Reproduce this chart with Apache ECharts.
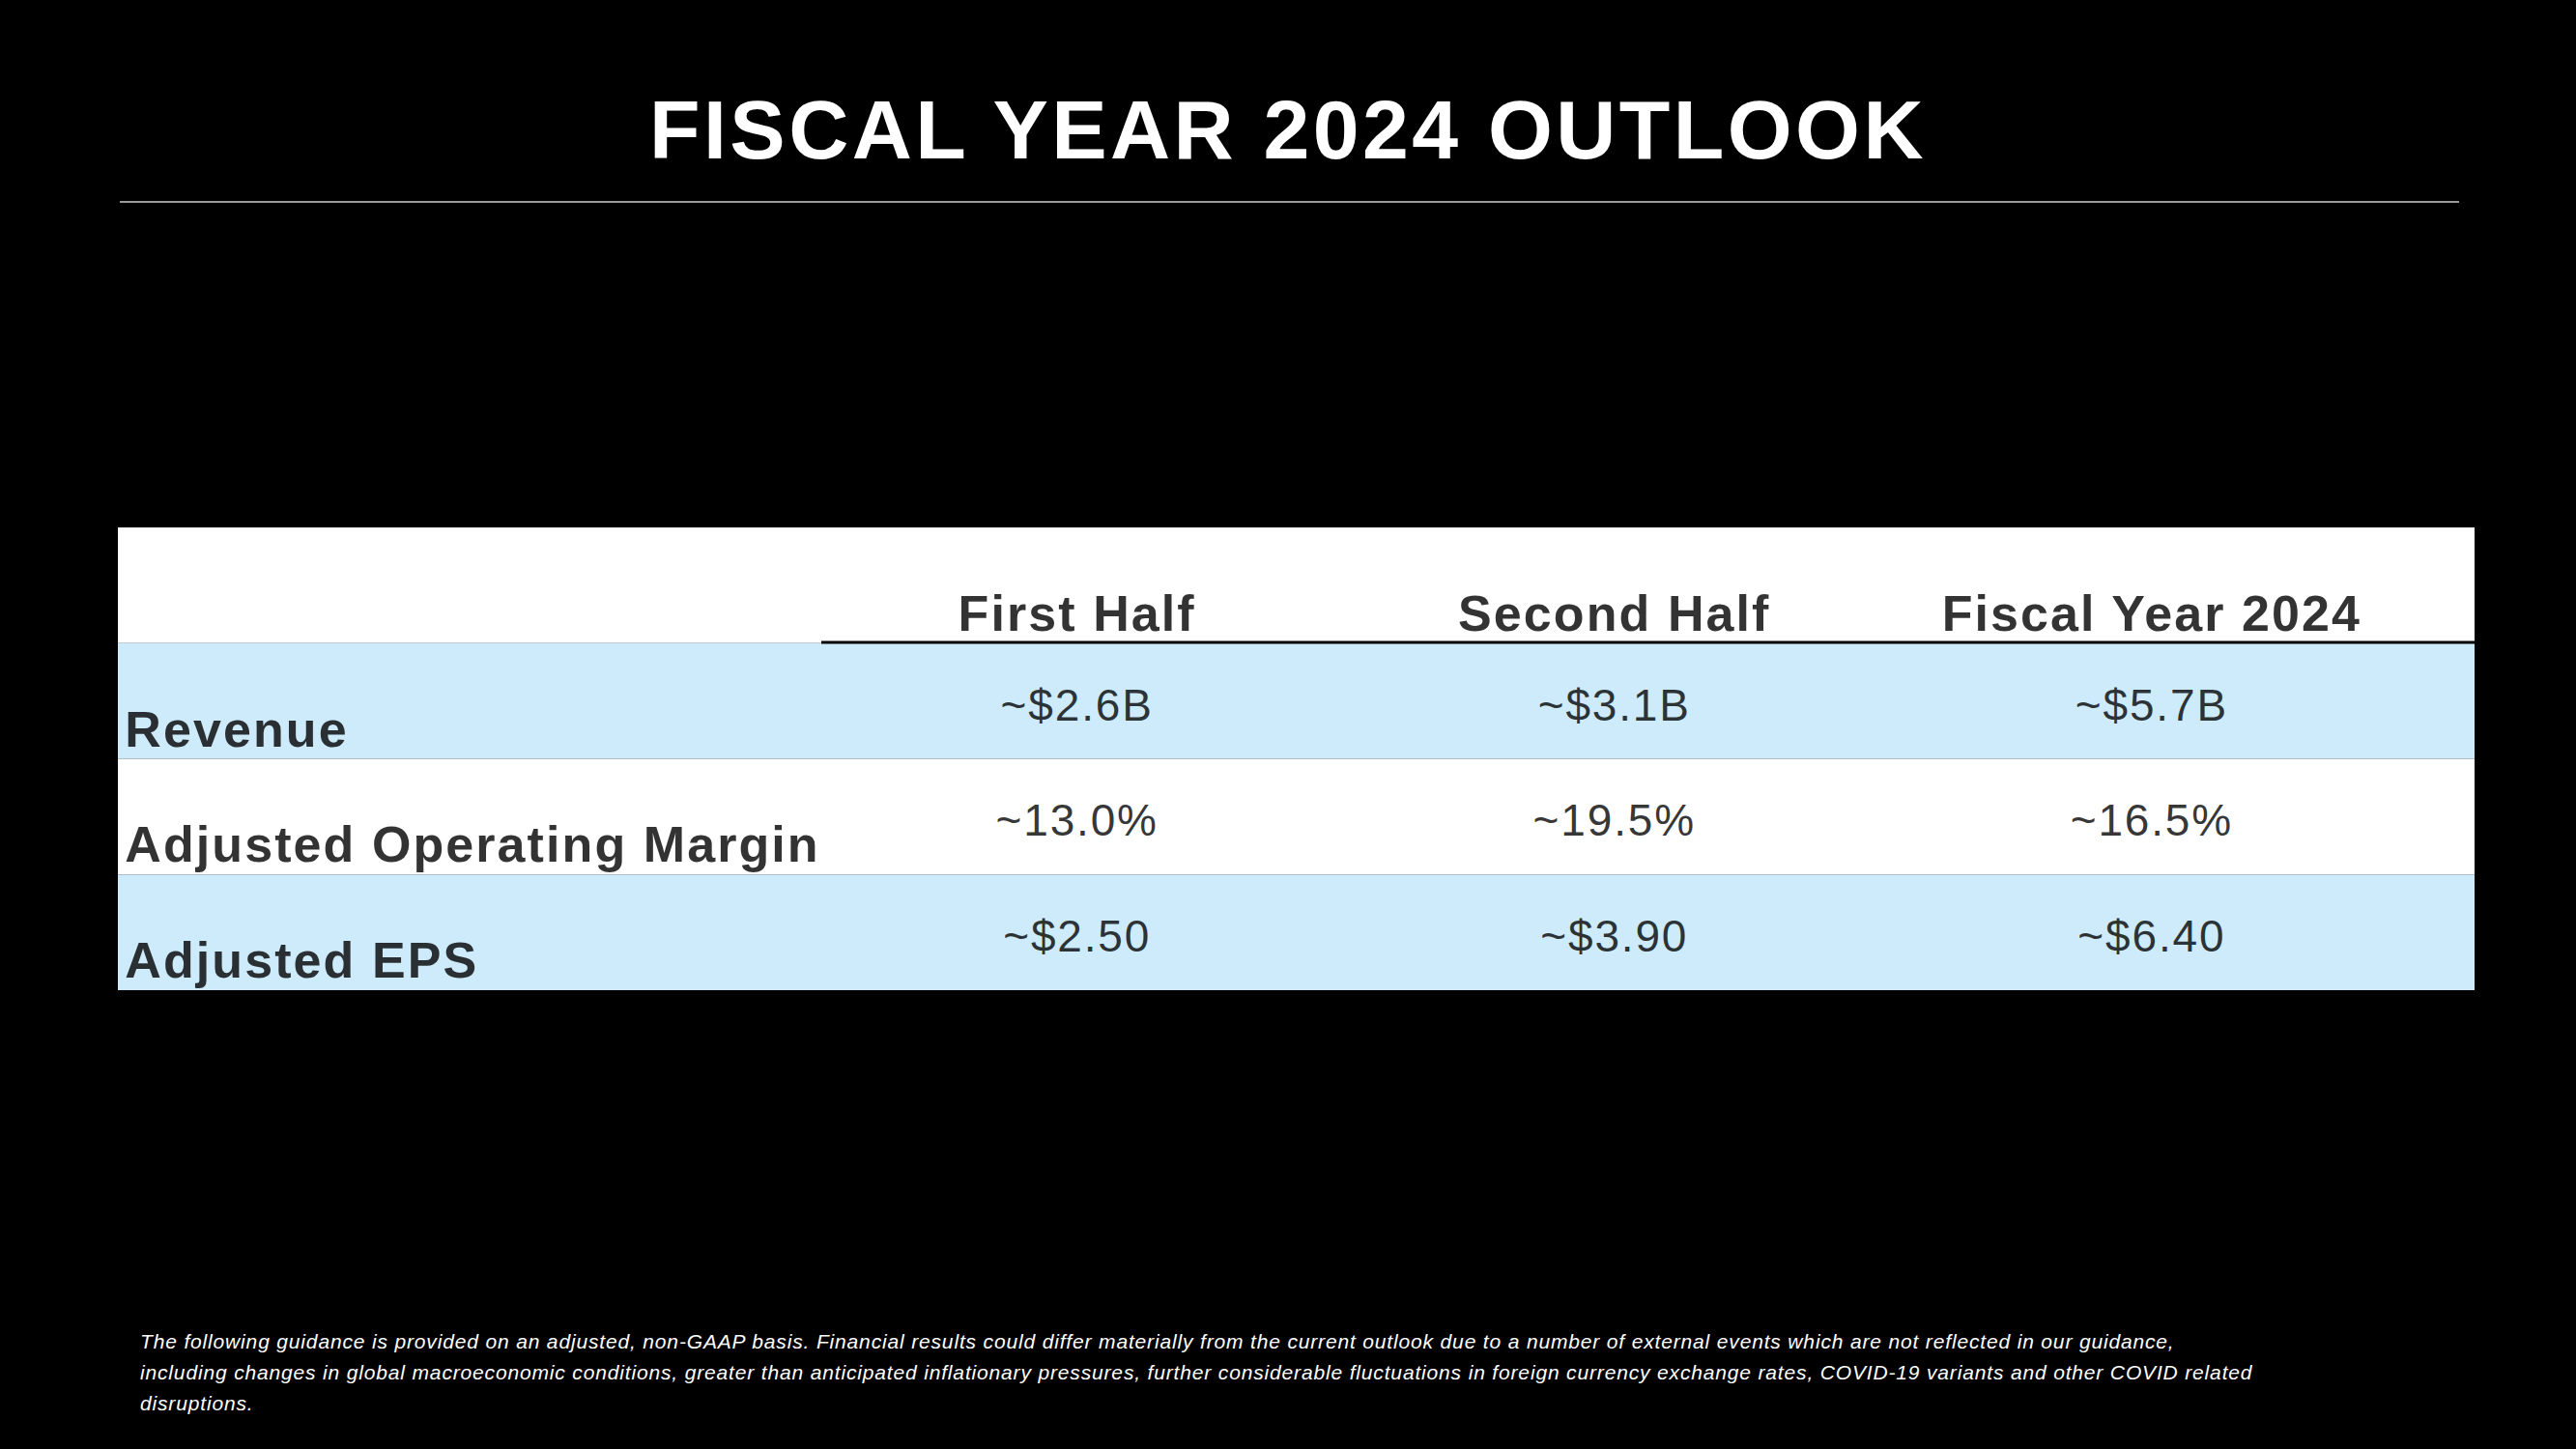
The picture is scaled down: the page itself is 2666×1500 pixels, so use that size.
<!DOCTYPE html>
<html><head><meta charset="utf-8">
<script src="https://cdn.jsdelivr.net/npm/echarts@6/dist/echarts.min.js"></script>
<style>
html,body{margin:0;padding:0;background:#000;}
#c{width:2666px;height:1500px;}
svg text{letter-spacing:0.04em;}
</style></head><body><div id="c"></div>
<script>
const rows = ['header','Revenue','Adjusted Operating Margin','Adjusted EPS'];
const columns = ['First Half','Second Half','Fiscal Year 2024'];
const revenue = ['~$2.6B','~$3.1B','~$5.7B'];
const margin = ['~13.0%','~19.5%','~16.5%'];
const eps = ['~$2.50','~$3.90','~$6.40'];
const colX = [40.7, 63.5, 86.3];
const rowColors = ['#ffffff','#cdebfb','#ffffff','#cdebfb'];
const FONT = '"Liberation Sans Narrow","Arial Narrow","Liberation Sans",sans-serif';

const textPts = [];
columns.forEach((c,i)=>textPts.push({value:[colX[i],'header'],t:c,kind:'h'}));
[revenue,margin,eps].forEach((arr,r)=>arr.forEach((v,i)=>textPts.push({value:[colX[i],rows[r+1]],t:v,kind:'v'})));
rows.slice(1).forEach(r=>textPts.push({value:[0.3,r],t:r,kind:'r'}));

const chart = echarts.init(document.getElementById('c'),null,{renderer:'svg'});
chart.setOption({
  backgroundColor:'#000',
  animation:false,
  title:{text:'FISCAL YEAR 2024 OUTLOOK',left:'center',top:86,
    textStyle:{color:'#fff',fontSize:86,fontWeight:'bold',fontFamily:FONT}},
  grid:{left:122,right:105,top:546,height:479},
  xAxis:{type:'value',min:0,max:100,show:false},
  yAxis:{type:'category',data:rows,inverse:true,show:false},
  graphic:[
    {type:'line',shape:{x1:124,y1:209,x2:2545,y2:209},style:{stroke:'#9a9a9a',lineWidth:2}},
    {type:'line',shape:{x1:850,y1:665,x2:2561,y2:665},style:{stroke:'#000',lineWidth:3},z:100},
    {type:'text',left:145,top:1372,style:{text:
'The following guidance is provided on an adjusted, non-GAAP basis. Financial results could differ materially from the current outlook due to a number of external events which are not reflected in our guidance,\nincluding changes in global macroeconomic conditions, greater than anticipated inflationary pressures, further considerable fluctuations in foreign currency exchange rates, COVID-19 variants and other COVID related\ndisruptions.',
      fill:'#fff',font:'italic 21px '+FONT,lineHeight:32}}
  ],
  series:[
    {type:'bar',barWidth:'100%',barCategoryGap:0,silent:true,
     data:rows.map((r,i)=>({value:[100,r],itemStyle:{color:rowColors[i]}})),
     encode:{x:0,y:1}},
    {type:'scatter',symbolSize:0,silent:true,z:10,
     data:textPts.map(p=>{
       const lab = p.kind==='h'?{fontSize:52,fontWeight:'bold',offset:[0,29],align:'center'}
        : p.kind==='v'?{fontSize:46,fontWeight:'normal',offset:[0,4],align:'center'}
        : {fontSize:52,fontWeight:'bold',offset:[0,29],align:'left'};
       return {value:p.value,label:Object.assign({show:true,position:'inside',formatter:p.t,color:'#000',textBorderWidth:0,fontFamily:FONT,verticalAlign:'middle'},lab)};
     })}
  ]
});
</script></body></html>
